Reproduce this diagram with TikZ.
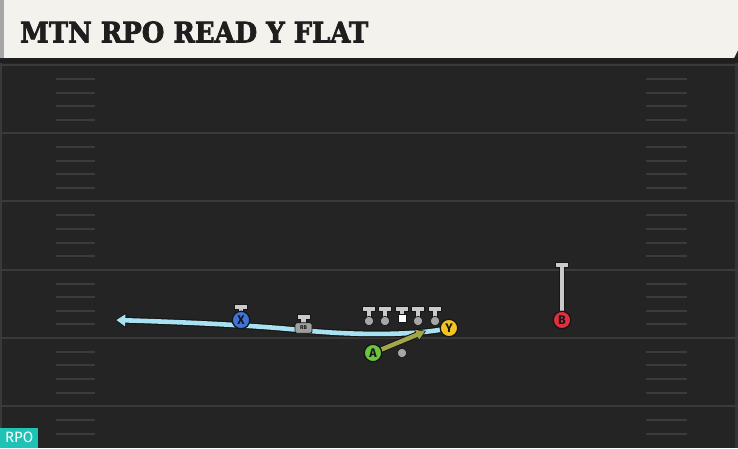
\documentclass[tikz,border=0pt]{standalone}
\usepackage{fontspec}
\setsansfont{Fira Sans}
\newfontfamily\titlefont{DejaVu Serif}[BoldFeatures={FakeBold=2.5}]
\usetikzlibrary{arrows.meta}
\definecolor{fieldbg}{HTML}{242424}
\definecolor{yardcol}{HTML}{3A3A3A}
\definecolor{hashcol}{HTML}{3B3B3B}
\definecolor{cream}{HTML}{F4F2EC}
\definecolor{titlecol}{HTML}{1E1E1E}
\definecolor{xblue}{HTML}{3D74D6}
\definecolor{yyellow}{HTML}{F2C324}
\definecolor{agreen}{HTML}{6CC53C}
\definecolor{bred}{HTML}{E0303F}
\definecolor{teegray}{HTML}{CACACA}
\definecolor{routeblue}{HTML}{A8E2F2}
\definecolor{olive}{HTML}{A3A648}
\definecolor{rpoteal}{HTML}{1EC3B6}
\definecolor{outline}{HTML}{161616}
\tikzset{
  yard/.style={draw=yardcol, line width=2pt},
  hashmark/.style={draw=hashcol, line width=2pt},
  player/.style={circle, draw=outline, line width=1.3pt, minimum size=17.5pt, inner sep=0pt,
    text=outline, font=\sffamily\bfseries\fontsize{12.5}{12.5}\selectfont},
  teestyle/.style={fill=teegray, draw=outline, line width=0.8pt},
  dotstyle/.style={circle, fill=gray!70, draw=outline, line width=0.7pt, minimum size=9.5pt, inner sep=0pt},
  rbbox/.style={fill=gray!75, draw=outline, line width=0.8pt, rounded corners=2pt, minimum width=17pt,
    minimum height=10.5pt, inner sep=0pt, text=outline, font=\sffamily\bfseries\fontsize{5.5}{5.5}\selectfont},
  routeunder/.style={draw=outline, line width=7pt, -{Triangle[length=11.5pt,width=15pt]}},
  routeover/.style={draw=routeblue, line width=4.6pt, shorten >=1.3pt, -{Triangle[length=9pt,width=11.5pt]}},
  oliveunder/.style={draw=outline, line width=6.5pt, -{Triangle[length=10.5pt,width=13pt]}},
  oliveover/.style={draw=olive, line width=4.4pt, shorten >=1.2pt, -{Triangle[length=8.5pt,width=10pt]}},
}
\newcommand{\teemark}[3]{%
  \filldraw[teestyle] (#1-6.5,#2) -- (#1+6.5,#2) -- (#1+6.5,#2+5) -- (#1+2.8,#2+5) -- (#1+2.8,#2+5+#3)
    -- (#1-2.8,#2+5+#3) -- (#1-2.8,#2+5) -- (#1-6.5,#2+5) -- cycle;}
\begin{document}
\begin{tikzpicture}[x=1pt,y=-1pt]
\useasboundingbox (0,0) rectangle (738,448);
% field
\fill[fieldbg] (0,0) rectangle (738,448);
\fill[yardcol] (0,58) rectangle (2,448);
\fill[yardcol!70!fieldbg] (735,58) rectangle (738,448);
\foreach \y in {65,133.2,201.4,269.6,337.8,406} {
  \draw[yard] (0,\y) -- (738,\y);
  \foreach \o in {14,27.6,41.2,54.8} {
    \pgfmathsetmacro{\hy}{\y+\o}
    \ifdim\hy pt<446pt
      \draw[hashmark] (56,\hy) -- (95,\hy);
      \draw[hashmark] (646,\hy) -- (687,\hy);
    \fi
  }
}
% header
\fill[cream] (0,0) -- (738,0) -- (738,50) -- (734,58) -- (0,58) -- cycle;
\fill[gray!70] (0,0) rectangle (3.5,58);
\fill[black!88] (0,58) rectangle (738,63);
\node[anchor=south west, inner sep=0pt, text=titlecol] (title) at (20,43)
  {\resizebox{348pt}{21pt}{\titlefont\bfseries MTN RPO READ Y FLAT}};
% positions
\coordinate (pX) at (241,320);
\coordinate (pY) at (449,328);
\coordinate (pA) at (373,353);
\coordinate (pRB) at (303.5,328);
\coordinate (wrEnd) at (115,320);
\coordinate (flatEnd) at (426,331);
% routes
\draw[routeunder] (pY) .. controls (420,335) and (360,336) .. (300,330) .. controls (250,325) and (180,322) .. (wrEnd);
\draw[routeover] (pY) .. controls (420,335) and (360,336) .. (300,330) .. controls (250,325) and (180,322) .. (wrEnd);
\draw[oliveunder] (pA) -- (flatEnd);
\draw[oliveover] (pA) -- (flatEnd);
% offensive line
\foreach \x in {369,385,418,435} {
  \teemark{\x}{306.5}{6.5}
  \node[dotstyle] at (\x,321) {};
}
\teemark{402}{306.5}{3}
\node[fill=white, draw=outline, line width=0.7pt, minimum size=8pt, inner sep=0pt] (C) at (402,318.5) {};
% QB dot
\node[dotstyle] (QB) at (402,353) {};
% X
\teemark{241}{304.5}{3.5}
\node[player, fill=xblue] (X) at (pX) {X};
% RB
\teemark{303.5}{314}{4.5}
\node[rbbox] (RB) at (pRB) {RB};
% B
\teemark{562}{262.5}{46}
\node[player, fill=bred] (B) at (562,320) {B};
% Y and A
\node[player, fill=yyellow] (Y) at (pY) {Y};
\node[player, fill=agreen] (A) at (pA) {A};
% RPO tag
\node[fill=rpoteal, text=white, anchor=south west, minimum width=38pt, minimum height=20pt, inner sep=0pt,
  font=\sffamily\fontsize{15}{15}\selectfont] (rpo) at (0,448) {RPO};
\end{tikzpicture}
\end{document}
